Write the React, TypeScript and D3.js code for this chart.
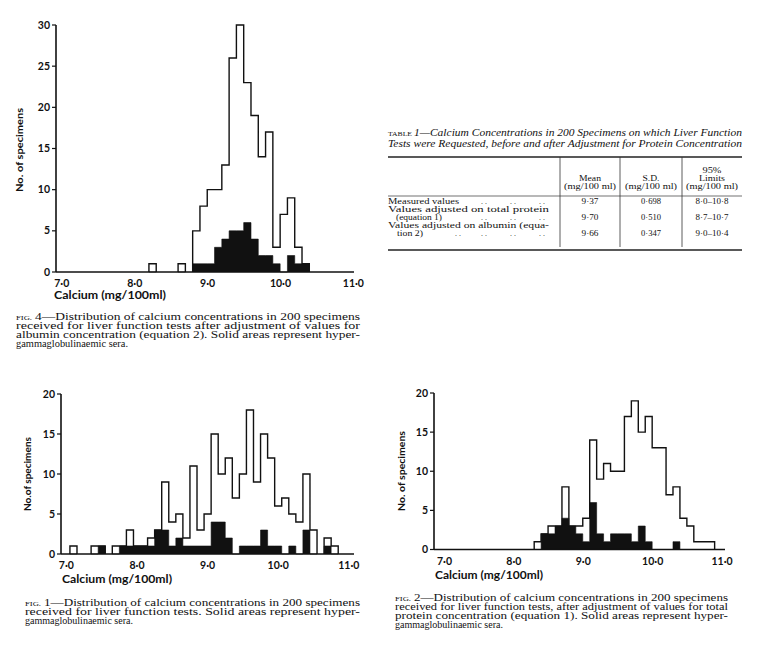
import React from "react";
import * as d3 from "d3";

// ---------- DATA ----------
// Fig. 4 (albumin-adjusted)
const fig4Calcium = [8.3, 8.7, 8.9, 9.0, 9.1, 9.2, 9.3, 9.4, 9.5, 9.6, 9.7, 9.8, 9.9, 10.0, 10.1, 10.2, 10.3, 10.4];
const fig4All = [1, 1, 5, 8, 10, 10, 13, 26, 30, 23, 19, 14, 17, 3, 7, 9, 3, 1];
const fig4Hyper = [0, 0, 1, 1, 1, 3, 4, 5, 5, 6, 4, 2, 2, 1, 0, 2, 1, 1];

// Fig. 1 (measured)
const fig1Calcium = [7.1, 7.4, 7.5, 7.7, 7.8, 7.9, 8.0, 8.1, 8.2, 8.3, 8.4, 8.5, 8.6, 8.7, 8.8, 8.9, 9.0, 9.1, 9.2, 9.3, 9.4, 9.5, 9.6, 9.7, 9.8, 9.9, 10.0, 10.1, 10.2, 10.3, 10.4, 10.5, 10.7, 10.8];
const fig1All = [1, 1, 1, 1, 1, 3, 1, 1, 2, 3, 9, 4, 5, 2, 11, 3, 5, 15, 10, 12, 7, 10, 18, 9, 15, 12, 6, 7, 5, 4, 10, 3, 2, 1];
const fig1Hyper = [0, 0, 1, 0, 1, 1, 1, 1, 1, 3, 3, 1, 2, 1, 1, 1, 1, 4, 4, 2, 0, 1, 1, 1, 3, 1, 1, 0, 1, 0, 3, 0, 1, 0];

// Fig. 2 (total-protein-adjusted)
const fig2Calcium = [8.4, 8.5, 8.6, 8.7, 8.8, 8.9, 9.0, 9.1, 9.2, 9.3, 9.4, 9.5, 9.6, 9.7, 9.8, 9.9, 10.0, 10.1, 10.2, 10.3, 10.4, 10.5, 10.6, 10.7, 10.8, 10.9];
const fig2All = [1, 2, 3, 3, 8, 3, 3, 4, 14, 9, 11, 10, 10, 17, 19, 15, 17, 13, 13, 7, 8, 4, 3, 1, 1, 1];
const fig2Hyper = [0, 2, 2, 3, 4, 3, 2, 1, 6, 2, 1, 2, 2, 2, 1, 3, 1, 0, 0, 0, 1, 0, 0, 0, 0, 0];

const xTickValues = [7, 8, 9, 10, 11];
const xTickLabels = ["7·0", "8·0", "9·0", "10·0", "11·0"];
const yTicks30 = [0, 5, 10, 15, 20, 25, 30];
const yTicks20 = [0, 5, 10, 15, 20];

// Table 1
const tableRowLabels = [
  ["Measured values"],
  ["Values adjusted on total protein", "(equation 1)"],
  ["Values adjusted on albumin (equa-", "tion 2)"],
];
const tableMeans = ["9·37", "9·70", "9·66"];
const tableSDs = ["0·698", "0·510", "0·347"];
const tableLimits = ["8·0–10·8", "8·7–10·7", "9·0–10·4"];

const BIN = 0.1;
const SANS = "Lato, 'Open Sans', sans-serif";
const SERIF = "'Liberation Serif', 'DejaVu Serif', serif";

function stepPath(values: number[], counts: number[], x: any, y: any) {
  const p = d3.path();
  let prevHi: number | null = null;
  values.forEach((v, i) => {
    const lo = v - BIN / 2;
    const hi = v + BIN / 2;
    if (prevHi === null || Math.abs(lo - prevHi) > 1e-6) {
      if (prevHi !== null) p.lineTo(x(prevHi), y(0));
      p.moveTo(x(lo), y(0));
    }
    p.lineTo(x(lo), y(counts[i]));
    p.lineTo(x(hi), y(counts[i]));
    prevHi = hi;
  });
  if (prevHi !== null) p.lineTo(x(prevHi), y(0));
  return p.toString();
}

type PanelProps = {
  values: number[];
  all: number[];
  hyper: number[];
  xRange: [number, number];
  axisX: [number, number];
  yRange: [number, number];
  yMax: number;
  yTicks: number[];
  tickDx: number;
  tickY: number;
  xLabel: { x: number; y: number; len: number };
  yLabel: { x: number; y: number; len: number; text: string };
};

function Panel(props: PanelProps) {
  const { values, all, hyper, xRange, axisX, yRange, yMax, yTicks, tickDx, tickY, xLabel, yLabel } = props;
  const x = d3.scaleLinear().domain([7, 11]).range(xRange);
  const y = d3.scaleLinear().domain([0, yMax]).range(yRange);
  const outline = stepPath(values, all, x, y);
  const solid = stepPath(values, hyper, x, y);
  return (
    <g>
      <path d={solid} fill="#111" stroke="#111" strokeWidth={0.6} />
      <path d={outline} fill="none" stroke="#111" strokeWidth={1.4} strokeLinejoin="miter" />
      <line x1={axisX[0]} x2={axisX[0]} y1={y(yMax)} y2={y(0)} stroke="#111" strokeWidth={1.6} />
      <line x1={axisX[0]} x2={axisX[1]} y1={y(0)} y2={y(0)} stroke="#111" strokeWidth={1.6} />
      {yTicks.map((t) => (
        <g key={t}>
          <line x1={axisX[0] - 4} x2={axisX[0]} y1={y(t)} y2={y(t)} stroke="#111" strokeWidth={1.2} />
          <text x={axisX[0] - 6} y={y(t) + 3.6} textAnchor="end" fontFamily={SANS} fontWeight={700} fontSize={10.5} fill="#111">
            {t}
          </text>
        </g>
      ))}
      {xTickValues.map((t, i) => (
        <text key={t} x={x(t) + tickDx} y={tickY} textAnchor="middle" fontFamily={SANS} fontWeight={700} fontSize={10.5} fill="#111">
          {xTickLabels[i]}
        </text>
      ))}
      <text x={xLabel.x} y={xLabel.y} fontFamily={SANS} fontWeight={700} fontSize={10.5} fill="#111" textLength={xLabel.len} lengthAdjust="spacingAndGlyphs">
        Calcium (mg/100ml)
      </text>
      <text
        transform={`translate(${yLabel.x},${yLabel.y}) rotate(-90)`}
        textAnchor="middle"
        fontFamily={SANS}
        fontWeight={700}
        fontSize={10}
        fill="#111"
        textLength={yLabel.len}
        lengthAdjust="spacingAndGlyphs"
      >
        {yLabel.text}
      </text>
    </g>
  );
}

function Caption({ x, x2, y, num, lines, lastLen, gap }: { x: number; x2: number; y: number; num: string; lines: string[]; lastLen: number; gap: number }) {
  const fs = 9.6;
  return (
    <g fontFamily={SERIF} fill="#111">
      {lines.map((ln, i) => {
        const by = y + i * gap;
        if (i === 0) {
          return (
            <g key={i}>
              <text x={x} y={by} fontSize={7} textLength={16} lengthAdjust="spacingAndGlyphs">FIG.</text>
              <text x={x + 19} y={by} fontSize={fs} textLength={x2 - x - 19} lengthAdjust="spacingAndGlyphs">
                {num + "—" + ln}
              </text>
            </g>
          );
        }
        const last = i === lines.length - 1;
        return (
          <text key={i} x={x} y={by} fontSize={fs} textLength={last ? lastLen : x2 - x} lengthAdjust="spacingAndGlyphs">
            {ln}
          </text>
        );
      })}
    </g>
  );
}

function Table() {
  const L = 388;
  const R = 742;
  const cols = [560, 620, 682];
  const centers = [590, 651, 712];
  const labelY = [204, 212, 220, 228, 236];
  const valueY = [204, 220, 236];
  const leaders = [481, 510, 539];
  const fs = 7.8;
  const fit = (n: number) => ({ textLength: n, lengthAdjust: "spacingAndGlyphs" as const });
  return (
    <g fontFamily={SERIF} fill="#111">
      <text x={L} y={136} fontSize={7} {...fit(24)}>TABLE</text>
      <text x={L + 26} y={136} fontSize={9.5} fontStyle="italic" {...fit(R - L - 26)}>
        1—Calcium Concentrations in 200 Specimens on which Liver Function
      </text>
      <text x={L} y={146.5} fontSize={9.5} fontStyle="italic" {...fit(R - L)}>
        Tests were Requested, before and after Adjustment for Protein Concentration
      </text>
      <line x1={L} x2={R} y1={157} y2={157} stroke="#222" strokeWidth={1.3} />
      <line x1={L} x2={R} y1={196} y2={196} stroke="#333" strokeWidth={0.7} />
      <line x1={L} x2={R} y1={250} y2={250} stroke="#222" strokeWidth={1.3} />
      {cols.map((c) => (
        <line key={c} x1={c} x2={c} y1={157} y2={247} stroke="#333" strokeWidth={0.8} />
      ))}
      <text x={centers[0]} y={180.5} fontSize={fs} textAnchor="middle" {...fit(22)}>Mean</text>
      <text x={centers[0]} y={188.5} fontSize={fs} textAnchor="middle" {...fit(52)}>(mg/100 ml)</text>
      <text x={centers[1]} y={180.5} fontSize={fs} textAnchor="middle" {...fit(17)}>S.D.</text>
      <text x={centers[1]} y={188.5} fontSize={fs} textAnchor="middle" {...fit(52)}>(mg/100 ml)</text>
      <text x={centers[2]} y={172.5} fontSize={fs} textAnchor="middle" {...fit(19)}>95%</text>
      <text x={centers[2]} y={180.5} fontSize={fs} textAnchor="middle" {...fit(26)}>Limits</text>
      <text x={centers[2]} y={188.5} fontSize={fs} textAnchor="middle" {...fit(52)}>(mg/100 ml)</text>

      <text x={L} y={labelY[0]} fontSize={fs} {...fit(71)}>{tableRowLabels[0][0]}</text>
      <text x={L} y={labelY[1]} fontSize={fs} {...fit(161)}>{tableRowLabels[1][0]}</text>
      <text x={L + 8} y={labelY[2]} fontSize={fs} {...fit(46)}>{tableRowLabels[1][1]}</text>
      <text x={L} y={labelY[3]} fontSize={fs} {...fit(161)}>{tableRowLabels[2][0]}</text>
      <text x={L + 9} y={labelY[4]} fontSize={fs} {...fit(26)}>{tableRowLabels[2][1]}</text>
      {[labelY[0], labelY[2], labelY[4]].map((yy) =>
        leaders.map((lx) => (
          <text key={`${yy}-${lx}`} x={lx} y={yy} fontSize={fs}>. .</text>
        ))
      )}
      <text x={455} y={labelY[4]} fontSize={fs}>. .</text>
      {valueY.map((yy, i) => (
        <g key={i}>
          <text x={centers[0]} y={yy} fontSize={fs} textAnchor="middle" {...fit(17)}>{tableMeans[i]}</text>
          <text x={centers[1]} y={yy} fontSize={fs} textAnchor="middle" {...fit(20)}>{tableSDs[i]}</text>
          <text x={centers[2]} y={yy} fontSize={fs} textAnchor="middle" {...fit(33)}>{tableLimits[i]}</text>
        </g>
      ))}
    </g>
  );
}

export default function App() {
  return (
    <svg width={762} height={649} style={{ position: "absolute", left: 0, top: 0, background: "#fff" }}>
      <rect width={762} height={649} fill="#fff" />
      <Panel
        values={fig4Calcium}
        all={fig4All}
        hyper={fig4Hyper}
        xRange={[57.8, 349.4]}
        axisX={[56, 354]}
        yRange={[272, 25]}
        yMax={30}
        yTicks={yTicks30}
        tickDx={4}
        tickY={287}
        xLabel={{ x: 54, y: 299, len: 112 }}
        yLabel={{ x: 23, y: 150, len: 84, text: "No. of specimens" }}
      />
      <Caption
        x={16}
        x2={360}
        y={320}
        gap={9}
        num="4"
        lastLen={112}
        lines={[
          "Distribution of calcium concentrations in 200 specimens",
          "received for liver function tests after adjustment of values for",
          "albumin concentration (equation 2). Solid areas represent hyper-",
          "gammaglobulinaemic sera.",
        ]}
      />
      <Table />
      <Panel
        values={fig1Calcium}
        all={fig1All}
        hyper={fig1Hyper}
        xRange={[66.4, 348.8]}
        axisX={[61, 354]}
        yRange={[554, 394]}
        yMax={20}
        yTicks={yTicks20}
        tickDx={0}
        tickY={569}
        xLabel={{ x: 62, y: 583, len: 110 }}
        yLabel={{ x: 31, y: 474, len: 74, text: "No.of specimens" }}
      />
      <Caption
        x={25}
        x2={360}
        y={606}
        gap={9}
        num="1"
        lastLen={108}
        lines={[
          "Distribution of calcium concentrations in 200 specimens",
          "received for liver function tests. Solid areas represent hyper-",
          "gammaglobulinaemic sera.",
        ]}
      />
      <Panel
        values={fig2Calcium}
        all={fig2All}
        hyper={fig2Hyper}
        xRange={[440.5, 718.1]}
        axisX={[434, 725]}
        yRange={[549.5, 393]}
        yMax={20}
        yTicks={yTicks20}
        tickDx={4}
        tickY={565}
        xLabel={{ x: 435, y: 579, len: 108 }}
        yLabel={{ x: 405, y: 471, len: 80, text: "No. of specimens" }}
      />
      <Caption
        x={395}
        x2={728}
        y={601}
        gap={9}
        num="2"
        lastLen={108}
        lines={[
          "Distribution of calcium concentrations in 200 specimens",
          "received for liver function tests, after adjustment of values for total",
          "protein concentration (equation 1). Solid areas represent hyper-",
          "gammaglobulinaemic sera.",
        ]}
      />
    </svg>
  );
}
